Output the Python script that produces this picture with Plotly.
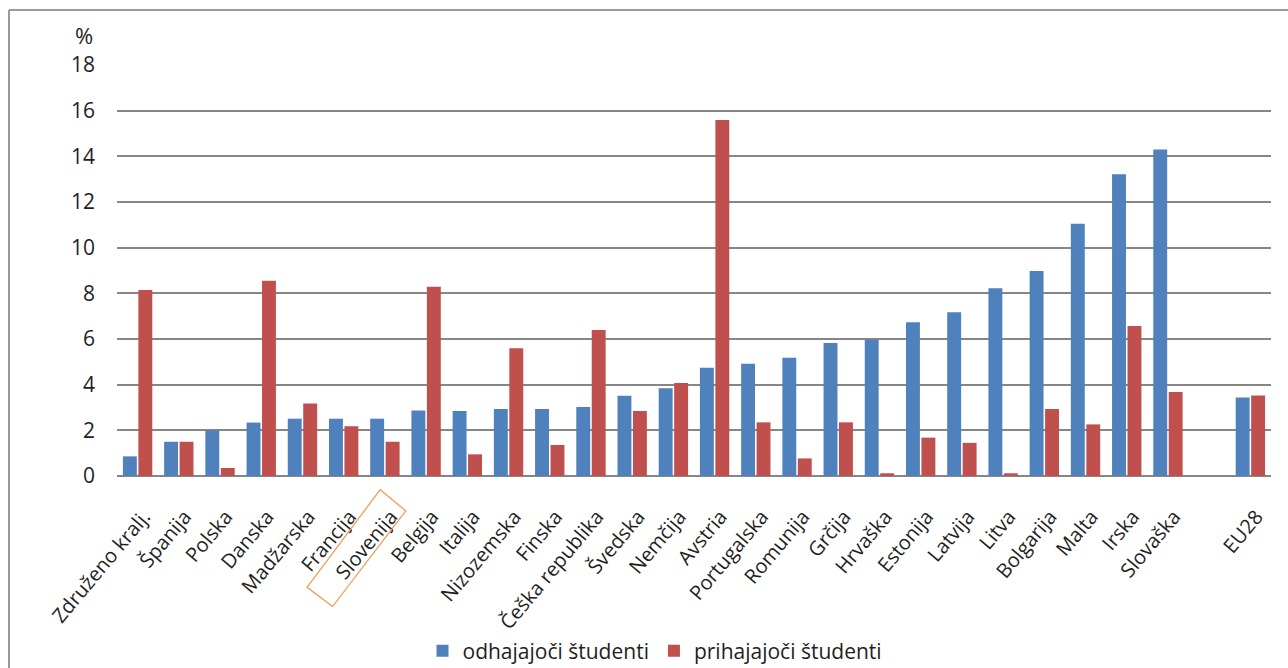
import plotly.graph_objects as go

categories = ["Združeno kralj.", "Španija", "Polska", "Danska", "Madžarska", "Francija",
              "Slovenija", "Belgija", "Italija", "Nizozemska", "Finska", "Češka republika",
              "Švedska", "Nemčija", "Avstria", "Portugalska", "Romunija", "Grčija",
              "Hrvaška", "Estonija", "Latvija", "Litva", "Bolgarija", "Malta", "Irska",
              "Slovaška", " ", "EU28"]

odhajajoci = [0.86, 1.5, 2.0, 2.34, 2.51, 2.51, 2.51, 2.87, 2.85, 2.93, 2.93, 3.02,
              3.52, 3.84, 4.74, 4.92, 5.18, 5.82, 5.97, 6.73, 7.17, 8.22, 8.98, 11.05,
              13.22, 14.3, None, 3.44]

prihajajoci = [8.15, 1.5, 0.35, 8.55, 3.17, 2.18, 1.5, 8.29, 0.95, 5.59, 1.36, 6.39,
               2.85, 4.07, 15.59, 2.35, 0.77, 2.35, 0.12, 1.68, 1.45, 0.12, 2.93, 2.26,
               6.57, 3.68, None, 3.53]

series_names = ["odhajajoči študenti", "prihajajoči študenti"]
y_ticks = [0, 2, 4, 6, 8, 10, 12, 14, 16, 18]

FONT = "Open Sans"
TXT = "#1f1f1f"
W, H = 1288, 668
L, R, T, B = 117, 17, 65, 192
PW, PH = W - L - R, H - T - B


def px(x):
    return (x - L) / PW


def py(y):
    return (H - B - y) / PH


fig = go.Figure()
fig.add_trace(go.Bar(x=categories, y=odhajajoci, name=series_names[0],
                     marker=dict(color="#4F81BD", line=dict(width=0))))
fig.add_trace(go.Bar(x=categories, y=prihajajoci, name=series_names[1],
                     marker=dict(color="#C0504D", line=dict(width=0))))

shapes = [
    # chart frame (left and top edges)
    dict(type="line", xref="paper", yref="paper", x0=px(9), x1=px(1300), y0=py(10), y1=py(10),
         line=dict(color="#9a9a9a", width=2)),
    dict(type="line", xref="paper", yref="paper", x0=px(9), x1=px(9), y0=py(10), y1=py(700),
         line=dict(color="#9a9a9a", width=2)),
    # orange highlight box around "Slovenija"
    dict(type="path", xref="paper", yref="paper",
         path="M{},{} L{},{} L{},{} L{},{} Z".format(
             px(380.2), py(489.7), px(405.8), py(510.9),
             px(332.6), py(606.5), px(307.0), py(587.3)),
         line=dict(color="#F79646", width=1.2)),
]

fig.update_layout(
    width=W, height=H,
    margin=dict(l=L, r=R, t=T, b=B, pad=0, autoexpand=False),
    paper_bgcolor="white", plot_bgcolor="white",
    barmode="group", bargap=0.25, bargroupgap=0.1,
    font=dict(family=FONT, size=18, color=TXT),
    showlegend=True,
    legend=dict(orientation="h", x=px(655), xanchor="center", y=py(651), yanchor="middle",
                font=dict(family=FONT, size=21, color=TXT),
                itemwidth=30, traceorder="normal"),
    shapes=shapes,
    annotations=[dict(text="%", xref="paper", yref="paper", x=px(84), y=py(35),
                      xanchor="center", yanchor="middle", showarrow=False,
                      font=dict(family=FONT, size=22, color=TXT))],
)

fig.update_xaxes(type="category", showgrid=False, showline=False, zeroline=False,
                 automargin=False,
                 tickangle=-50, ticks="", ticklabelstandoff=24, ticklabelshift=6,
                 tickfont=dict(family=FONT, size=20, color=TXT))
fig.update_yaxes(range=[0, 18], tickvals=y_ticks, showgrid=True, gridcolor="#868686",
                 gridwidth=1.5, zeroline=True, zerolinecolor="#868686", zerolinewidth=1.5,
                 showline=False, ticks="", ticklabelstandoff=21, automargin=False,
                 tickfont=dict(family=FONT, size=21, color=TXT))

fig.write_html("out.html")
